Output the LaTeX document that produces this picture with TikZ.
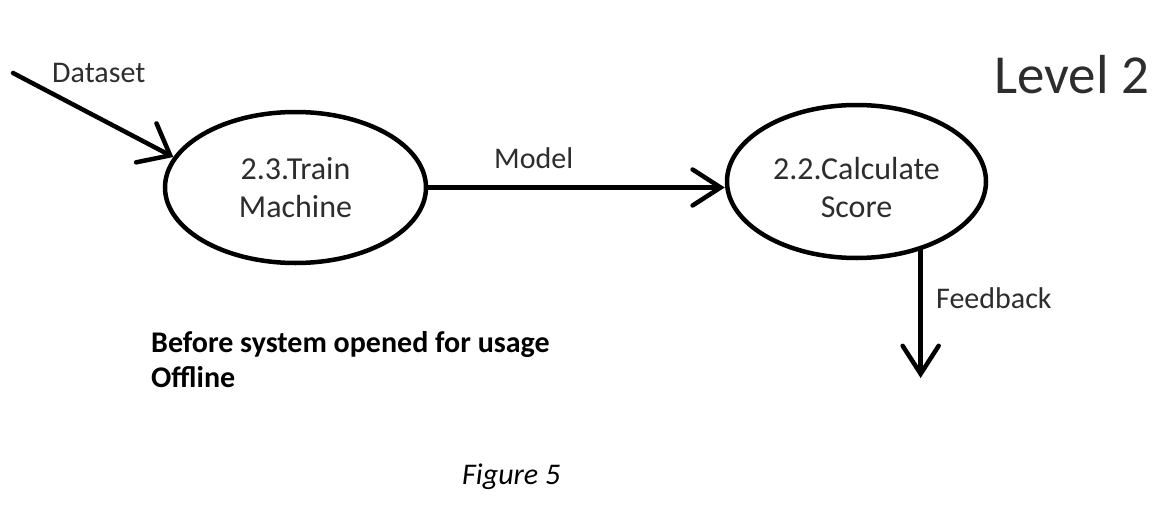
\documentclass[tikz,border=0pt]{standalone}
\usepackage{fontspec}
\setmainfont{Carlito}
\usetikzlibrary{arrows.meta,shapes.geometric}
\definecolor{txt}{RGB}{45,45,45}
\begin{document}
\begin{tikzpicture}[x=1pt,y=-1pt,
  proc/.style={ellipse,draw,line width=4.5pt,inner sep=0pt,align=center,
    font=\fontsize{32}{38}\selectfont,text=txt},
  flow/.style={line width=4.5pt,line cap=round,
    -{Straight Barb[length=28pt,width=36pt,line cap=round]}},
  lbl/.style={font=\fontsize{30}{36}\selectfont,text=txt,inner sep=0pt}]
\useasboundingbox (0,0) rectangle (1173,511);
\node[proc,minimum width=261pt,minimum height=151pt] (e1) at (295.5,187.5) {2.3.Train\\Machine};
\node[proc,minimum width=259pt,minimum height=153pt] (e2) at (856.5,181.5) {\rule{0pt}{34pt}2.2.Calculate\\Score};
\coordinate (dsin) at (13,73);
\coordinate (fbend) at (918,378);
\draw[flow,-{Straight Barb[length=27pt,width=44pt,line cap=round]}] (dsin) -- (e1.166);
\draw[flow] (e1.east) -- (e1.east -| e2.west);
\draw[flow] (e2.-47.6) -- (e2.-47.6 |- fbend);
\node[lbl,anchor=base west] (dslabel) at (52,82) {Dataset};
\node[lbl,anchor=base west] (mlabel) at (494,168) {Model};
\node[lbl,anchor=base west] (fblabel) at (936,308) {Feedback};
\node[lbl,anchor=base west,font=\fontsize{55}{62}\selectfont] (level) at (994,93) {Level 2};
\node[anchor=base west,align=left,inner sep=0pt,font=\bfseries\fontsize{30}{35}\selectfont] (note) at (151,387) {Before system opened for usage\\Offline};
\node[anchor=base west,inner sep=0pt,font=\itshape\fontsize{30}{36}\selectfont] (fig) at (462,484) {Figure 5};
\end{tikzpicture}
\end{document}
